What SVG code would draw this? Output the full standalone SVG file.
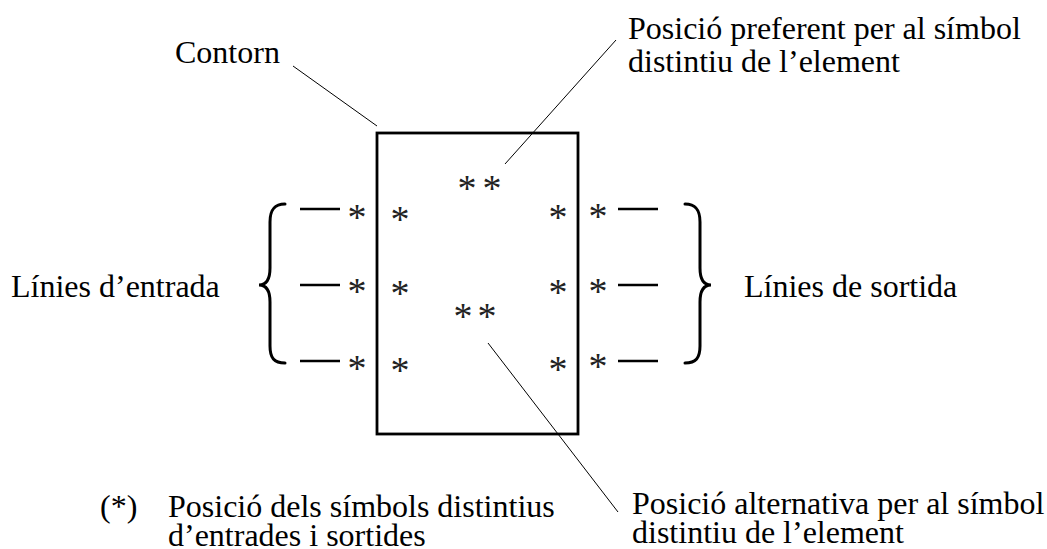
<svg xmlns="http://www.w3.org/2000/svg" width="1047" height="549" viewBox="0 0 1047 549">
  <style>
    .lbl { font-family: "Liberation Serif", "Times New Roman", serif; font-size: 32px; fill: #000; }
    .ast { font-family: "Liberation Serif", "Times New Roman", serif; font-size: 38px; fill: #222; text-anchor: middle; }
    .lead { stroke: #000; stroke-width: 1; fill: none; }
    .pin { stroke: #000; stroke-width: 2.7; fill: none; }
    .brace { stroke: #000; stroke-width: 3; fill: none; stroke-linecap: round; }
  </style>
  <rect width="1047" height="549" fill="#fff"/>

  <!-- element outline -->
  <g id="element">
    <rect x="377" y="133" width="201" height="301" fill="none" stroke="#000" stroke-width="2.8"/>
    <!-- preferred / alternative qualifying symbol positions -->
    <text class="ast" x="467" y="201">*</text>
    <text class="ast" x="492" y="201">*</text>
    <text class="ast" x="463" y="329">*</text>
    <text class="ast" x="487" y="329">*</text>
    <!-- inner input/output marks -->
    <text class="ast" x="400" y="232">*</text>
    <text class="ast" x="400" y="306">*</text>
    <text class="ast" x="400" y="383">*</text>
    <text class="ast" x="558" y="230">*</text>
    <text class="ast" x="558" y="305">*</text>
    <text class="ast" x="558" y="382">*</text>
  </g>

  <!-- input lines -->
  <g id="inputs">
    <line class="pin" x1="300" y1="209" x2="340" y2="209"/>
    <line class="pin" x1="300" y1="285" x2="340" y2="285"/>
    <line class="pin" x1="300" y1="361" x2="340" y2="361"/>
    <text class="ast" x="357" y="230">*</text>
    <text class="ast" x="357" y="304">*</text>
    <text class="ast" x="357" y="381">*</text>
    <path class="brace" d="M285,204 C274,204 270,210 270,222 L270,268 C270,279 266,285 259,285 C266,285 270,291 270,302 L270,346 C270,358 274,363 285,363"/>
    <text class="lbl" x="11" y="297">Línies d’entrada</text>
  </g>

  <!-- output lines -->
  <g id="outputs">
    <line class="pin" x1="618" y1="209" x2="658" y2="209"/>
    <line class="pin" x1="618" y1="285" x2="658" y2="285"/>
    <line class="pin" x1="618" y1="361" x2="658" y2="361"/>
    <text class="ast" x="598" y="229">*</text>
    <text class="ast" x="598" y="304">*</text>
    <text class="ast" x="598" y="379">*</text>
    <path class="brace" d="M685,204 C696,204 700,210 700,222 L700,268 C700,279 704,285 711,285 C704,285 700,291 700,302 L700,346 C700,358 696,363 685,363"/>
    <text class="lbl" x="744" y="297">Línies de sortida</text>
  </g>

  <!-- annotation labels -->
  <g id="label-contorn">
    <text class="lbl" x="175" y="63">Contorn</text>
  </g>
  <g id="label-preferent">
    <text class="lbl" x="628" y="39">Posició preferent per al símbol</text>
    <text class="lbl" x="628" y="72">distintiu de l’element</text>
  </g>
  <g id="label-alternativa">
    <text class="lbl" x="632" y="514">Posició alternativa per al símbol</text>
    <text class="lbl" x="632" y="543">distintiu de l’element</text>
  </g>
  <g id="label-nota">
    <text class="lbl" x="100" y="517">(*)</text>
    <text class="lbl" x="168" y="517">Posició dels símbols distintius</text>
    <text class="lbl" x="168" y="546">d’entrades i sortides</text>
  </g>

  <!-- leader lines -->
  <g id="connectors">
    <line class="lead" x1="293" y1="66" x2="377" y2="126"/>
    <line class="lead" x1="616" y1="40" x2="505" y2="164"/>
    <line class="lead" x1="488" y1="343" x2="618" y2="512"/>
  </g>
</svg>
